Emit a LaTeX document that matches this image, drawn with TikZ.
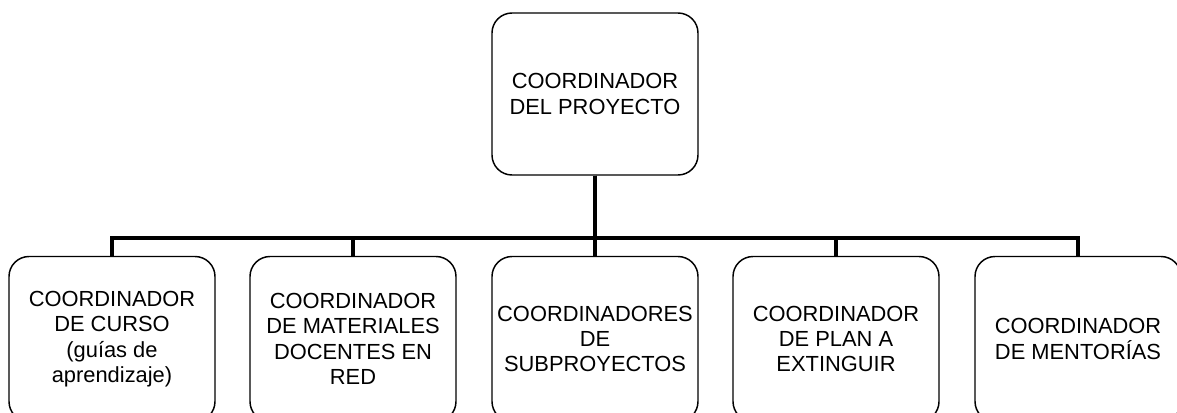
\documentclass[tikz,border=0pt]{standalone}
\usepackage{fontspec}
\setmainfont{Liberation Sans}
\tikzset{cargo/.style={draw, line width=1.1pt, rounded corners=15pt, align=center, inner sep=2pt, minimum width=154.5pt, minimum height=123.75pt, font=\fontsize{16.4}{19}\selectfont}, enlace/.style={line width=3.5pt}}

\begin{document}
\begin{tikzpicture}[x=0.75pt,y=-0.75pt]
   \useasboundingbox (0,0) rectangle (1177,412);
   \clip (0,0) rectangle (1177,412);
   \node[cargo, minimum height=121.5pt] (proyecto) at (595,94) {COORDINADOR\\DEL PROYECTO};
   \node[cargo] (curso) at (112,339) {COORDINADOR\\DE CURSO\\(guías de\\aprendizaje)};
   \node[cargo] (materiales) at (353,339) {COORDINADOR\\DE MATERIALES\\DOCENTES EN\\RED};
   \node[cargo] (subproyectos) at (595,339) {COORDINADORES\\DE\\SUBPROYECTOS};
   \node[cargo] (plan) at (836,339) {COORDINADOR\\DE PLAN A\\EXTINGUIR};
   \node[cargo] (mentorias) at (1078,339) {COORDINADOR\\DE MENTORÍAS};
   \coordinate (bus) at (595,238);
   \foreach \n in {curso,materiales,subproyectos,plan,mentorias}
     \draw[enlace] (proyecto.south) -- (bus) -| (\n.north);
\end{tikzpicture}
\end{document}
